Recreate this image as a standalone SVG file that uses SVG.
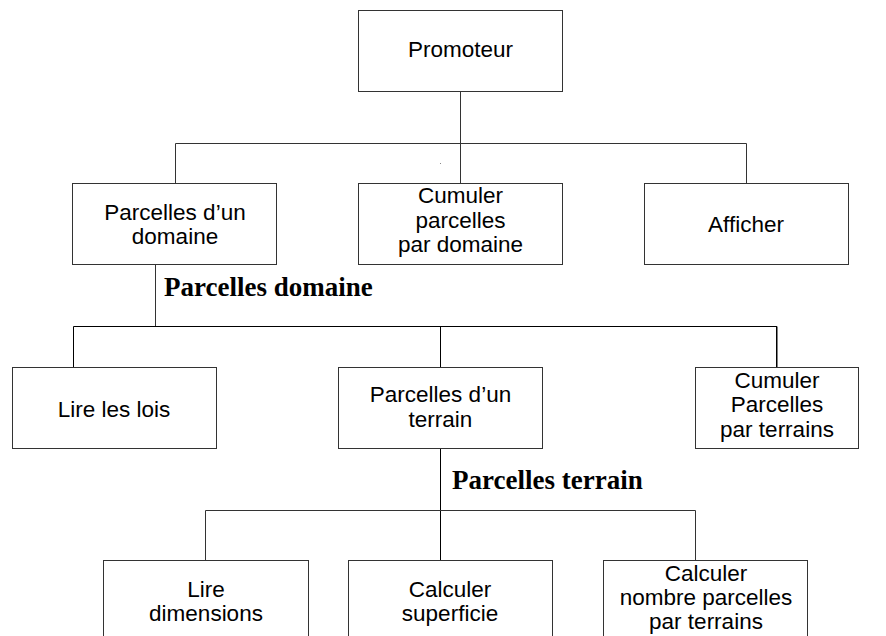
<svg xmlns="http://www.w3.org/2000/svg" width="886" height="636" viewBox="0 0 886 636">
<style>
.box{fill:#fff;stroke:#333;stroke-width:1}
.t{font-family:"Liberation Sans",Arial,sans-serif;font-size:22.5px;fill:#000;text-anchor:middle}
.lbl{font-family:"Liberation Serif","Times New Roman",serif;font-size:27px;font-weight:bold;fill:#000}
.c{fill:none;stroke:#333;stroke-width:1}
.ck{fill:none;stroke:#000;stroke-width:1}
</style>
<rect width="886" height="636" fill="#fff"/>
<g id="connectors">
<path class="c" d="M460.5 91V183.5M175.5 183.5V143.5H746.5V183.5"/>
<path class="c" d="M155.5 265V326"/>
<path class="ck" d="M73.5 367.5V326.5H777V367.5"/>
<path class="ck" d="M776.5 326.5V367.5" stroke-width="1.5"/>
<path class="ck" d="M440.5 326.5V367.5M440.5 448V560.5"/>
<path class="c" d="M205.5 560.5V510.5H695.5V560.5"/>
<rect x="440" y="163" width="1" height="1" fill="#888"/>
</g>
<g id="promoteur"><rect class="box" x="358.5" y="10.5" width="204" height="81"/><text class="t" x="460.5" y="57">Promoteur</text></g>
<g id="parcelles-domaine"><rect class="box" x="72.5" y="183.5" width="204" height="81"/><text class="t" x="175" y="220">Parcelles d’un</text><text class="t" x="175" y="244">domaine</text></g>
<g id="cumuler-domaine"><rect class="box" x="358.5" y="183.5" width="204" height="81"/><text class="t" x="460.5" y="203">Cumuler</text><text class="t" x="460.5" y="227.5">parcelles</text><text class="t" x="460.5" y="252">par domaine</text></g>
<g id="afficher"><rect class="box" x="644.5" y="183.5" width="204" height="81"/><text class="t" x="746" y="232">Afficher</text></g>
<text class="lbl" x="164" y="296">Parcelles domaine</text>
<g id="lire-lois"><rect class="box" x="12.5" y="367.5" width="204" height="81"/><text class="t" x="114" y="417">Lire les lois</text></g>
<g id="parcelles-terrain"><rect class="box" x="338.5" y="367.5" width="204" height="81"/><text class="t" x="440.5" y="402">Parcelles d’un</text><text class="t" x="440.5" y="426.5">terrain</text></g>
<g id="cumuler-terrains"><rect class="box" x="695.5" y="367.5" width="163" height="81"/><text class="t" x="777" y="388">Cumuler</text><text class="t" x="777" y="412">Parcelles</text><text class="t" x="777" y="436.5">par terrains</text></g>
<text class="lbl" x="452" y="489">Parcelles terrain</text>
<g id="lire-dimensions"><rect class="box" x="103.5" y="560.5" width="205" height="100"/><text class="t" x="206" y="597">Lire</text><text class="t" x="206" y="621">dimensions</text></g>
<g id="calculer-superficie"><rect class="box" x="348.5" y="560.5" width="204" height="100"/><text class="t" x="450" y="597">Calculer</text><text class="t" x="450" y="621">superficie</text></g>
<g id="calculer-nombre"><rect class="box" x="603.5" y="560.5" width="204" height="100"/><text class="t" x="706" y="581">Calculer</text><text class="t" x="706" y="605">nombre parcelles</text><text class="t" x="706" y="629">par terrains</text></g>
</svg>
